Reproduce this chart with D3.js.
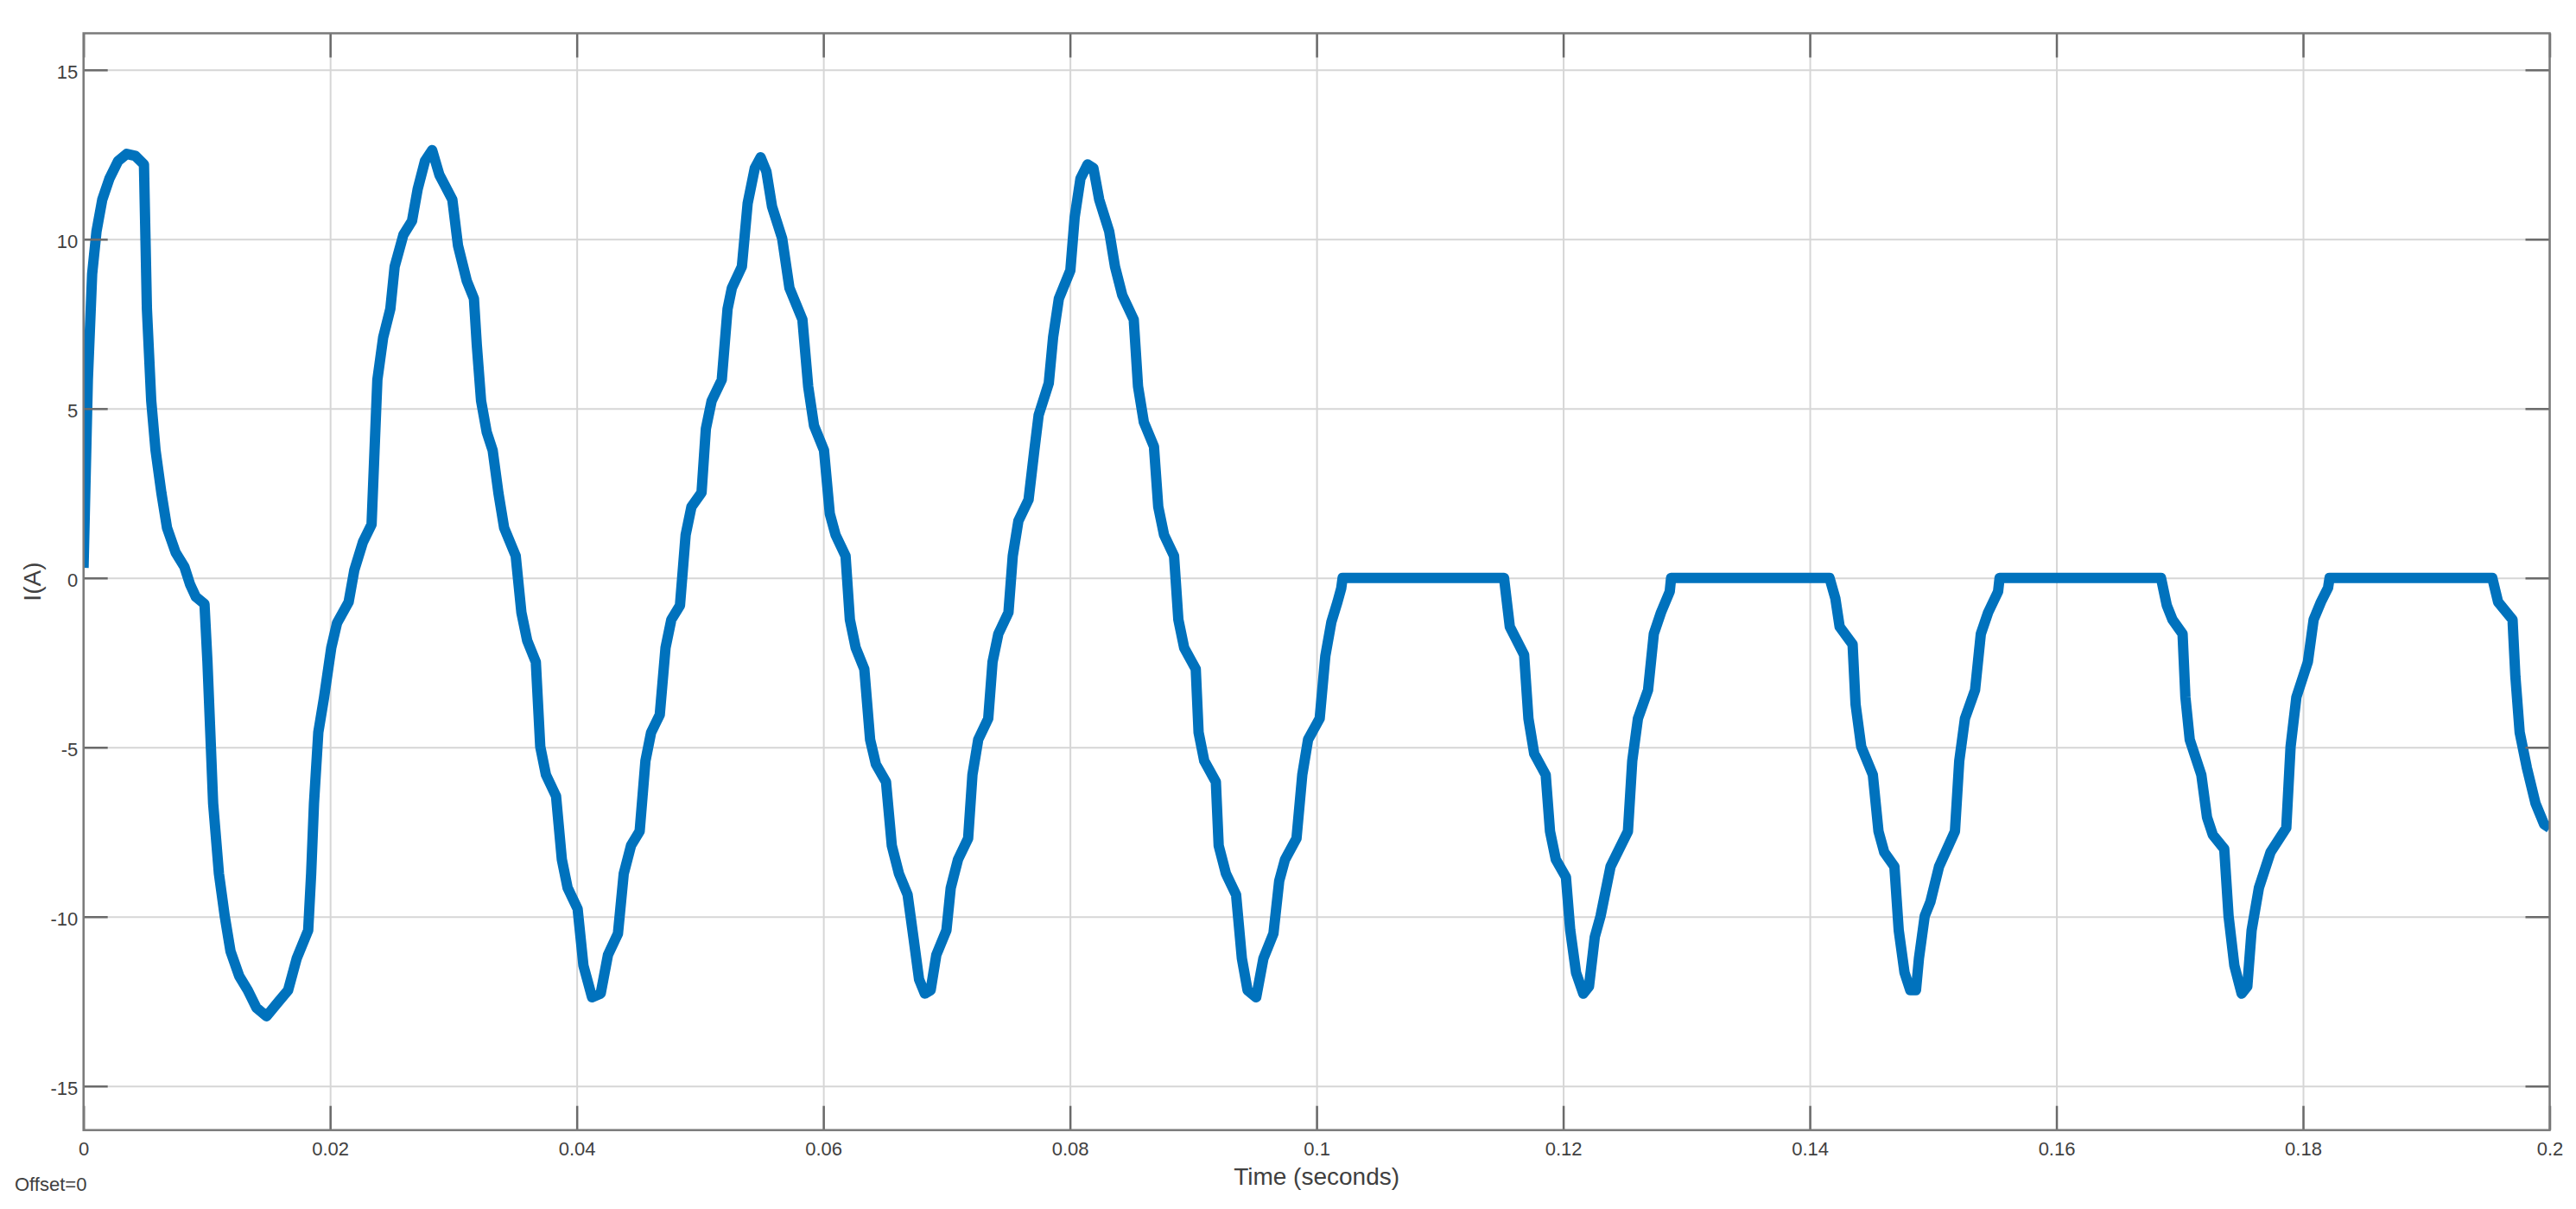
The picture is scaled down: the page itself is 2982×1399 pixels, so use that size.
<!DOCTYPE html>
<html>
<head>
<meta charset="utf-8">
<script src="https://cdn.jsdelivr.net/npm/d3@7"></script>
<style>
  html, body { margin: 0; padding: 0; background: #fff; }
  svg { display: block; font-family: "Liberation Sans", Arial, Helvetica, sans-serif; }
  .grid line { stroke: #d6d6d6; stroke-width: 2; }
  .grid path { display: none; }
  .ticks { font-family: "Liberation Sans", Arial, Helvetica, sans-serif; }
  .ticks path { display: none; }
  .ticks line { stroke: #6a6a6a; stroke-width: 2.5; }
  .ticks text { fill: #404040; font-size: 22px; }
  .label { fill: #404040; font-size: 28px; }
</style>
</head>
<body>
<svg id="scope" width="2982" height="1399"></svg>
<script>
// scope trace: time (s) and current I (A)
const timeSec = [
  0.00000, 0.00035, 0.00070, 0.00105, 0.00152, 0.00210, 0.00280, 0.00350, 0.00420, 0.00490,
  0.00514, 0.00549, 0.00584, 0.00631, 0.00677, 0.00747, 0.00818, 0.00864, 0.00911, 0.00981,
  0.01005, 0.01028, 0.01051, 0.01098, 0.01145, 0.01192, 0.01262, 0.01332, 0.01402, 0.01484,
  0.01565, 0.01659, 0.01729, 0.01822, 0.01846, 0.01869, 0.01904, 0.01951, 0.02009, 0.02056,
  0.02150, 0.02196, 0.02266, 0.02336, 0.02360, 0.02383, 0.02430, 0.02488, 0.02523, 0.02594,
  0.02664, 0.02710, 0.02769, 0.02827, 0.02886, 0.02991, 0.03037, 0.03108, 0.03166, 0.03189,
  0.03224, 0.03270, 0.03318, 0.03365, 0.03411, 0.03505, 0.03551, 0.03598, 0.03668, 0.03704,
  0.03750, 0.03832, 0.03879, 0.03926, 0.04007, 0.04054, 0.04124, 0.04194, 0.04253, 0.04334,
  0.04381, 0.04440, 0.04510, 0.04557, 0.04603, 0.04673, 0.04720, 0.04767, 0.04837, 0.04883,
  0.04930, 0.05012, 0.05047, 0.05094, 0.05176, 0.05223, 0.05258, 0.05339, 0.05386, 0.05444,
  0.05491, 0.05538, 0.05584, 0.05666, 0.05725, 0.05830, 0.05877, 0.05924, 0.06005, 0.06052,
  0.06099, 0.06180, 0.06215, 0.06262, 0.06332, 0.06379, 0.06426, 0.06508, 0.06555, 0.06613,
  0.06683, 0.06730, 0.06776, 0.06823, 0.06870, 0.06916, 0.06998, 0.07033, 0.07092, 0.07174,
  0.07209, 0.07256, 0.07337, 0.07372, 0.07419, 0.07501, 0.07536, 0.07582, 0.07664, 0.07711,
  0.07746, 0.07828, 0.07863, 0.07910, 0.08003, 0.08038, 0.08085, 0.08143, 0.08190, 0.08237,
  0.08318, 0.08365, 0.08424, 0.08517, 0.08552, 0.08599, 0.08681, 0.08716, 0.08763, 0.08844,
  0.08879, 0.08926, 0.09020, 0.09043, 0.09089, 0.09183, 0.09206, 0.09265, 0.09347, 0.09394,
  0.09440, 0.09510, 0.09569, 0.09650, 0.09697, 0.09744, 0.09837, 0.09884, 0.09931, 0.10025,
  0.10071, 0.10120, 0.10170, 0.10200, 0.10211, 0.11520, 0.11567, 0.11683, 0.11718, 0.11765,
  0.11858, 0.11893, 0.11940, 0.12022, 0.12057, 0.12104, 0.12163, 0.12209, 0.12256, 0.12303,
  0.12384, 0.12525, 0.12560, 0.12606, 0.12688, 0.12735, 0.12793, 0.12864, 0.12875, 0.14160,
  0.14207, 0.14242, 0.14347, 0.14371, 0.14417, 0.14511, 0.14557, 0.14604, 0.14686, 0.14721,
  0.14768, 0.14815, 0.14861, 0.14885, 0.14932, 0.14978, 0.15048, 0.15177, 0.15212, 0.15258,
  0.15340, 0.15387, 0.15446, 0.15527, 0.15539, 0.16848, 0.16895, 0.16941, 0.17023, 0.17046,
  0.17081, 0.17175, 0.17221, 0.17268, 0.17361, 0.17396, 0.17443, 0.17502, 0.17548, 0.17583,
  0.17642, 0.17736, 0.17864, 0.17899, 0.17946, 0.18039, 0.18086, 0.18145, 0.18203, 0.18215,
  0.19535, 0.19582, 0.19699, 0.19722, 0.19757, 0.19815, 0.19885, 0.19955, 0.20000
];
const currentA = [
  0.30, 5.85, 8.98, 10.23, 11.17, 11.79, 12.31, 12.52, 12.46, 12.21,
  7.94, 5.23, 3.77, 2.52, 1.48, 0.75, 0.33, -0.19, -0.56, -0.77,
  -2.48, -4.56, -6.65, -8.73, -9.98, -11.02, -11.75, -12.17, -12.69, -12.94,
  -12.58, -12.17, -11.23, -10.40, -8.73, -6.65, -4.56, -3.52, -2.06, -1.33,
  -0.71, 0.23, 1.06, 1.58, 3.77, 5.85, 7.10, 7.94, 9.19, 10.13,
  10.54, 11.48, 12.31, 12.63, 11.90, 11.17, 9.81, 8.77, 8.25, 6.90,
  5.23, 4.30, 3.77, 2.50, 1.48, 0.65, -1.02, -1.85, -2.48, -4.98,
  -5.81, -6.44, -8.31, -9.15, -9.77, -11.44, -12.38, -12.27, -11.13, -10.50,
  -8.73, -7.90, -7.48, -5.40, -4.56, -4.04, -2.06, -1.23, -0.81, 1.27,
  2.10, 2.52, 4.40, 5.23, 5.85, 7.94, 8.56, 9.19, 11.06, 12.10,
  12.42, 12.00, 10.96, 10.02, 8.56, 7.63, 5.65, 4.50, 3.77, 1.90,
  1.27, 0.65, -1.23, -2.06, -2.69, -4.77, -5.50, -6.02, -7.90, -8.73,
  -9.35, -10.60, -11.85, -12.27, -12.17, -11.13, -10.40, -9.15, -8.31, -7.69,
  -5.81, -4.77, -4.15, -2.48, -1.65, -1.02, 0.65, 1.69, 2.31, 3.77,
  4.81, 5.75, 7.10, 8.25, 9.08, 10.65, 11.79, 12.21, 12.10, 11.17,
  10.23, 9.19, 8.35, 7.63, 5.65, 4.60, 3.88, 2.10, 1.27, 0.65,
  -1.23, -2.06, -2.69, -4.56, -5.40, -6.02, -7.90, -8.73, -9.35, -11.23,
  -12.17, -12.38, -11.23, -10.50, -8.94, -8.31, -7.69, -5.81, -4.77, -4.15,
  -2.30, -1.30, -0.70, -0.30, 0, 0, -1.44, -2.27, -4.15, -5.19,
  -5.81, -7.48, -8.31, -8.83, -10.40, -11.65, -12.27, -12.06, -10.60, -9.98,
  -8.52, -7.48, -5.40, -4.15, -3.31, -1.65, -1.02, -0.40, 0, 0,
  -0.60, -1.44, -1.96, -3.73, -4.98, -5.81, -7.48, -8.10, -8.52, -10.40,
  -11.65, -12.17, -12.17, -11.23, -9.98, -9.56, -8.52, -7.48, -5.40, -4.15,
  -3.31, -1.65, -1.02, -0.40, 0, 0, -0.81, -1.23, -1.65, -3.52,
  -4.77, -5.81, -7.06, -7.58, -8.00, -9.98, -11.44, -12.27, -12.06, -10.40,
  -9.15, -8.10, -7.38, -4.98, -3.52, -2.48, -1.23, -0.71, -0.29, 0,
  0, -0.71, -1.23, -2.90, -4.56, -5.60, -6.65, -7.27, -7.38
];

const xTicks = [0, 0.02, 0.04, 0.06, 0.08, 0.1, 0.12, 0.14, 0.16, 0.18, 0.2];
const yTicks = [-15, -10, -5, 0, 5, 10, 15];
const xDomain = [0, 0.2];
const yDomain = [-16.3, 16.08];

const svg = d3.select("#scope"),
    margin = { top: 38.5, right: 30.5, bottom: 91.3, left: 96.7 },
    width = +svg.attr("width") - margin.left - margin.right,
    height = +svg.attr("height") - margin.top - margin.bottom,
    g = svg.append("g").attr("transform", `translate(${margin.left},${margin.top})`);

svg.insert("rect", ":first-child")
    .attr("width", "100%").attr("height", "100%").attr("fill", "#fff");

const x = d3.scaleLinear().domain(xDomain).range([0, width]);
const y = d3.scaleLinear().domain(yDomain).range([height, 0]);
const fmt = d => String(+d.toFixed(2));

// grid
g.append("g")
    .attr("class", "grid")
    .attr("transform", `translate(0,${height})`)
    .call(d3.axisBottom(x).tickValues(xTicks).tickSize(-height).tickFormat(""));
g.append("g")
    .attr("class", "grid")
    .call(d3.axisLeft(y).tickValues(yTicks).tickSize(-width).tickFormat(""));

// trace
svg.append("defs").append("clipPath").attr("id", "plotClip")
    .append("rect").attr("width", width).attr("height", height);

const samples = timeSec.map((t, i) => ({ t: t, v: currentA[i] }));
const line = d3.line().x(d => x(d.t)).y(d => y(d.v));

g.append("path")
    .datum(samples)
    .attr("clip-path", "url(#plotClip)")
    .attr("fill", "none")
    .attr("stroke", "#0072BD")
    .attr("stroke-width", 12)
    .attr("stroke-linejoin", "round")
    .attr("stroke-linecap", "butt")
    .attr("d", line);

// ticks on all four sides, pointing inward
const tickLen = 28;
g.append("g").attr("class", "ticks")
    .attr("transform", `translate(0,${height})`)
    .call(d3.axisBottom(x).tickValues(xTicks).tickSizeInner(-tickLen).tickSizeOuter(0).tickPadding(13.5).tickFormat(fmt));
g.append("g").attr("class", "ticks")
    .call(d3.axisTop(x).tickValues(xTicks).tickSizeInner(-tickLen).tickSizeOuter(0).tickFormat(""));
g.append("g").attr("class", "ticks")
    .call(d3.axisLeft(y).tickValues(yTicks).tickSizeInner(-tickLen).tickSizeOuter(0).tickPadding(6.5).tickFormat(fmt))
    .selectAll("text").attr("dy", "0.45em");
g.append("g").attr("class", "ticks")
    .attr("transform", `translate(${width},0)`)
    .call(d3.axisRight(y).tickValues(yTicks).tickSizeInner(-tickLen).tickSizeOuter(0).tickFormat(""));

// box
g.append("rect")
    .attr("width", width)
    .attr("height", height)
    .attr("fill", "none")
    .attr("stroke", "#7a7a7a")
    .attr("stroke-width", 2.5);

// labels
svg.append("text")
    .attr("class", "label")
    .attr("x", margin.left + width / 2)
    .attr("y", 1371)
    .attr("text-anchor", "middle")
    .text("Time (seconds)");

svg.append("text")
    .attr("class", "label")
    .attr("transform", `translate(47,${margin.top + height / 2}) rotate(-90)`)
    .attr("text-anchor", "middle")
    .text("I(A)");

svg.append("text")
    .attr("x", 17)
    .attr("y", 1378)
    .attr("fill", "#404040")
    .style("font-size", "22px")
    .text("Offset=0");
</script>
</body>
</html>
